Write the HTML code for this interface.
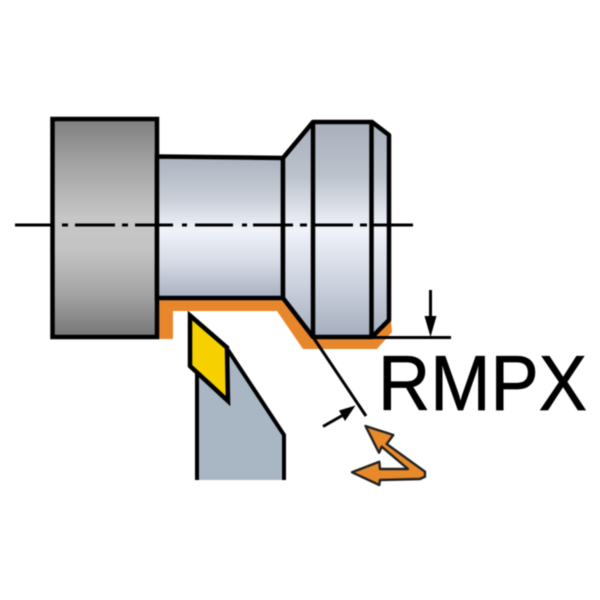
<!DOCTYPE html>
<html>
<head>
<meta charset="utf-8">
<style>
html,body{margin:0;padding:0;background:#fff;width:600px;height:600px;overflow:hidden}
svg{display:block;filter:blur(0.45px)}
</style>
</head>
<body>
<svg width="600" height="600" viewBox="0 0 600 600" xmlns="http://www.w3.org/2000/svg">
<defs>
<linearGradient id="g" x1="0" y1="0" x2="0" y2="1">
<stop offset="0" stop-color="#7f7f7f"/>
<stop offset="0.2" stop-color="#a2a2a2"/>
<stop offset="0.45" stop-color="#c6c6c6"/>
<stop offset="0.6" stop-color="#c4c4c4"/>
<stop offset="0.8" stop-color="#a4a4a4"/>
<stop offset="1" stop-color="#757575"/>
</linearGradient>
<linearGradient id="n" gradientUnits="userSpaceOnUse" x1="0" y1="156" x2="0" y2="298">
<stop offset="0" stop-color="#aab2be"/>
<stop offset="0.3" stop-color="#c9ced7"/>
<stop offset="0.52" stop-color="#f0f3fa"/>
<stop offset="0.75" stop-color="#d5dae5"/>
<stop offset="1" stop-color="#a8b0c0"/>
</linearGradient>
<linearGradient id="h" gradientUnits="userSpaceOnUse" x1="0" y1="122" x2="0" y2="337">
<stop offset="0" stop-color="#a9b0bc"/>
<stop offset="0.25" stop-color="#bcc2cc"/>
<stop offset="0.5" stop-color="#f0f3fa"/>
<stop offset="0.75" stop-color="#ccd2de"/>
<stop offset="1" stop-color="#a5adbd"/>
</linearGradient>
</defs>

<!-- orange contour -->
<polygon points="157,296 284,296 313,335 372,335 391,320 392,332 377,349 303,349 277,311 173,311 173,339 157,339" fill="#e8862c"/>

<!-- holder -->
<polygon points="197,370 197,480 284,480 284,435 228,350 190,330" fill="#a9b7c5"/>
<path d="M197,370V480M284,480V435L228,350" fill="none" stroke="#000" stroke-width="4"/>

<!-- insert -->
<polygon points="190,315.500 227,347.500 228,401 190,366" fill="#f7d000" stroke="#000" stroke-width="4.500"/>

<!-- bearing -->
<rect x="52.500" y="119" width="104.500" height="218" fill="url(#g)" stroke="#000" stroke-width="4.500"/>

<!-- neck -->
<polygon points="157,156.500 283,158 283,298 157,298" fill="url(#n)" stroke="#000" stroke-width="4.500"/>

<!-- head -->
<polygon points="283,158 313,122 372,122 389,135 389,320 372,337 313,337 283,298" fill="url(#h)" stroke="#000" stroke-width="4.500" stroke-linejoin="round"/>
<path d="M313,122V337M371.500,122V337" stroke="#000" stroke-width="4.500" fill="none"/>

<!-- centre line -->
<path d="M15,225H52M62,225H68M75,225H115M122,225H128M135,225H173M182,225H187M195,225H233M242,225H247M253,225H293M300,225H307M315,225H353M360,225H367M373,225H413" stroke="#000" stroke-width="3" fill="none"/>

<!-- dimension lines -->
<path d="M372,337.500H451" stroke="#000" stroke-width="3" fill="none"/>
<path d="M430.500,290V320" stroke="#000" stroke-width="3" fill="none"/>
<polygon points="424.500,316 436.500,316 430.500,337" fill="#000"/>
<path d="M313,337L366,416" stroke="#000" stroke-width="3" fill="none"/>
<path d="M323,426.500L345,414" stroke="#000" stroke-width="3" fill="none"/>
<polygon points="355.500,405.500 345,421 339,410.500" fill="#000"/>

<!-- label -->
<text x="378" y="410" font-family="'Liberation Sans',sans-serif" font-size="78" fill="#000" stroke="#000" stroke-width="0.7" textLength="209" lengthAdjust="spacingAndGlyphs">RMPX</text>

<!-- feed arrows -->
<polygon points="365.500,426 393.300,435 386.700,444 425,471.700 425,476.700 420,479 380,480 379.300,485 352,472.300 379.300,461.700 380,469 408,469 381.700,446.700 379,452.700" fill="#e8892a" stroke="#222" stroke-width="2.400" stroke-linejoin="round"/>
</svg>
</body>
</html>
